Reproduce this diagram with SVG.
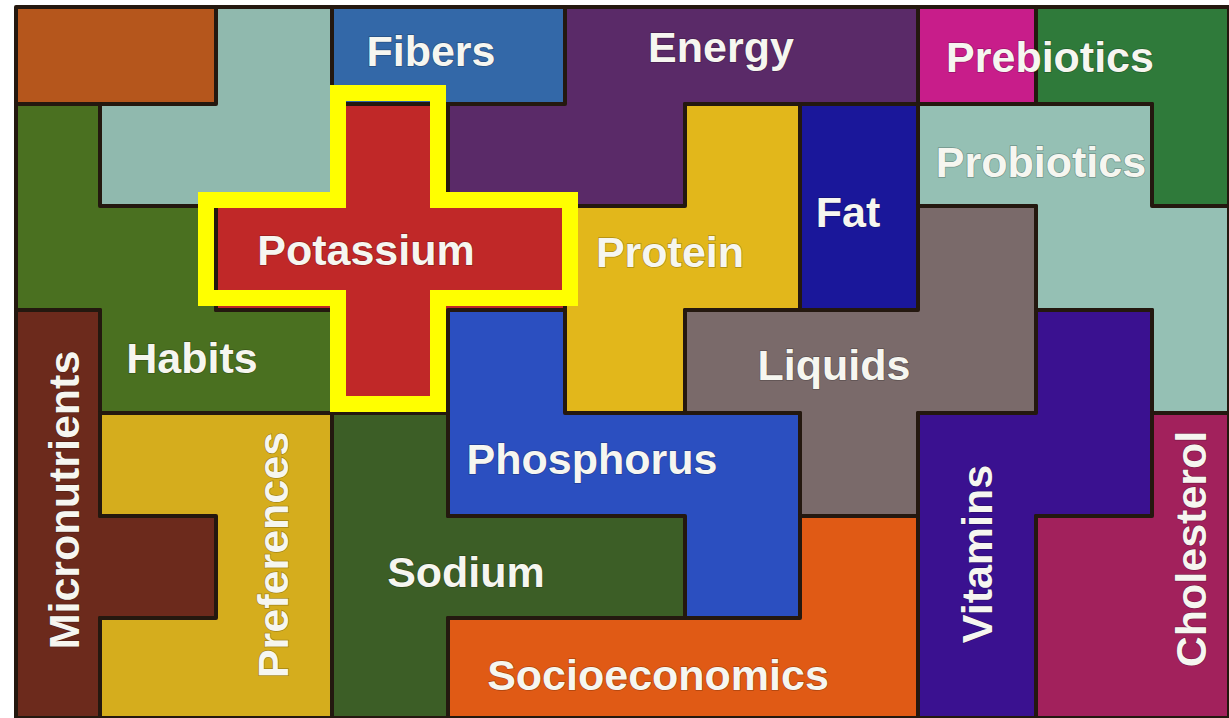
<svg xmlns="http://www.w3.org/2000/svg" width="1229" height="718" viewBox="0 0 1229 718">
<style>
.p{stroke:#24180f;stroke-width:4;stroke-linejoin:round}
.t{font-family:"Liberation Sans",Arial,sans-serif;font-weight:bold;font-size:43px;fill:#f6f6f0;text-anchor:middle;stroke:rgba(0,0,0,0.25);stroke-width:1.5;paint-order:stroke}
</style>
<rect width="1229" height="718" fill="#ffffff"/>
<rect x="16" y="7" width="1213" height="711" fill="#24180f"/>
<g id="orange-tl"><polygon class="p" fill="#b5561c" points="16,7 216,7 216,104 16,104"/></g>
<g id="teal-tl"><polygon class="p" fill="#90b9ae" points="216,7 332,7 332,206 100,206 100,104 216,104"/></g>
<g id="fibers"><polygon class="p" fill="#3368a8" points="332,7 565,7 565,104 332,104"/><text class="t" x="431" y="66">Fibers</text></g>
<g id="energy"><polygon class="p" fill="#5a2a68" points="565,7 918,7 918,104 685,104 685,206 448,206 448,104 565,104"/><text class="t" x="721" y="62">Energy</text></g>
<g id="magenta"><polygon class="p" fill="#c81d8a" points="918,7 1036,7 1036,104 918,104"/></g>
<g id="prebiotics"><polygon class="p" fill="#2f7a3a" points="1036,7 1229,7 1229,206 1152,206 1152,104 1036,104"/><text class="t" x="1050" y="72">Prebiotics</text></g>
<g id="habits"><polygon class="p" fill="#4a7020" points="16,104 100,104 100,206 216,206 216,310 332,310 332,413 100,413 100,310 16,310"/><text class="t" x="192" y="373">Habits</text></g>
<g id="protein"><polygon class="p" fill="#e2b71b" points="685,104 800,104 800,310 685,310 685,413 565,413 565,206 685,206"/><text class="t" x="670" y="267">Protein</text></g>
<g id="fat"><polygon class="p" fill="#1a179a" points="800,104 918,104 918,310 800,310"/><text class="t" x="848" y="227">Fat</text></g>
<g id="probiotics"><polygon class="p" fill="#95c0b4" points="918,104 1152,104 1152,206 1229,206 1229,413 1152,413 1152,310 1036,310 1036,206 918,206"/><text class="t" x="1041" y="177">Probiotics</text></g>
<g id="liquids"><polygon class="p" fill="#7a6a6a" points="918,206 1036,206 1036,413 918,413 918,516 800,516 800,413 685,413 685,310 918,310"/><text class="t" x="834" y="380">Liquids</text></g>
<g id="vitamins"><polygon class="p" fill="#3a1190" points="1036,310 1152,310 1152,516 1036,516 1036,718 918,718 918,413 1036,413"/><text class="t" transform="translate(992,554) rotate(-90)">Vitamins</text></g>
<g id="cholesterol"><polygon class="p" fill="#a2215c" points="1152,413 1229,413 1229,718 1036,718 1036,516 1152,516"/><text class="t" transform="translate(1206,549) rotate(-90)">Cholesterol</text></g>
<g id="micronutrients"><polygon class="p" fill="#6c2a1c" points="16,310 100,310 100,516 216,516 216,618 100,618 100,718 16,718"/><text class="t" transform="translate(79,500) rotate(-90)">Micronutrients</text></g>
<g id="preferences"><polygon class="p" fill="#d5ad1d" points="100,413 332,413 332,718 100,718 100,618 216,618 216,516 100,516"/><text class="t" transform="translate(288,555) rotate(-90)">Preferences</text></g>
<g id="sodium"><polygon class="p" fill="#3c5e26" points="332,413 448,413 448,516 685,516 685,618 448,618 448,718 332,718"/><text class="t" x="466" y="587">Sodium</text></g>
<g id="phosphorus"><polygon class="p" fill="#2b4fc0" points="448,310 565,310 565,413 800,413 800,618 685,618 685,516 448,516"/><text class="t" x="592" y="474">Phosphorus</text></g>
<g id="socioeconomics"><polygon class="p" fill="#e05a15" points="800,516 918,516 918,718 448,718 448,618 800,618"/><text class="t" x="658" y="690">Socioeconomics</text></g>
<g id="potassium"><polygon class="p" fill="#c02828" points="332,104 448,104 448,206 565,206 565,310 448,310 448,413 332,413 332,310 216,310 216,206 332,206"/><polygon fill="none" stroke="#ffff00" stroke-width="16" stroke-linejoin="miter" points="338,93 438,93 438,200 570,200 570,298 438,298 438,404 338,404 338,298 206,298 206,200 338,200"/><text class="t" x="366" y="265">Potassium</text></g>
</svg>
